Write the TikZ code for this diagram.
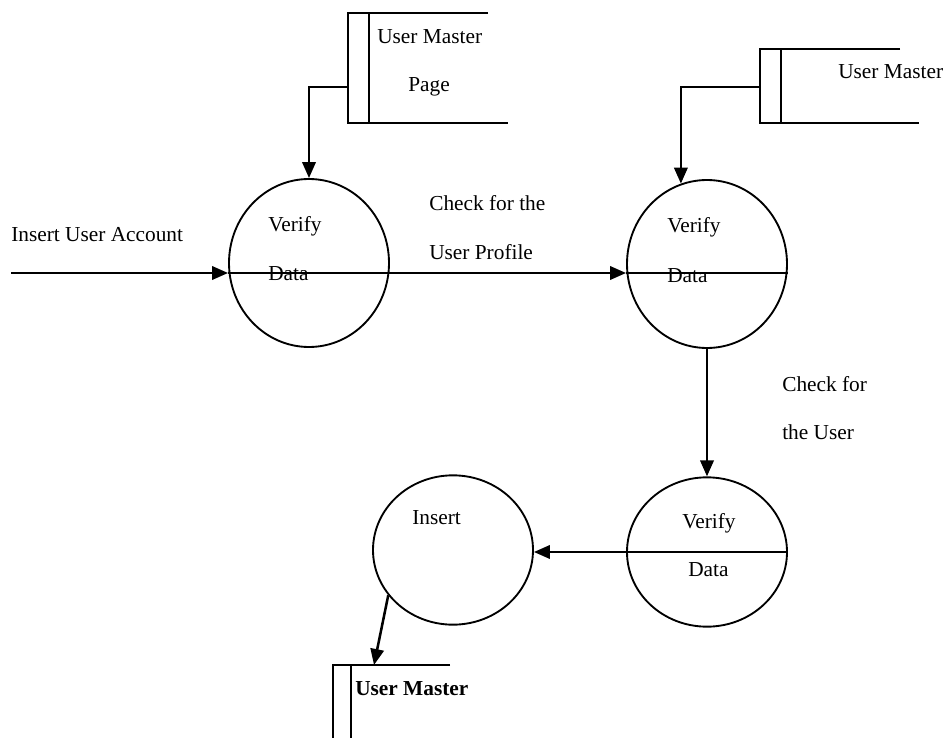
\documentclass[tikz,border=0pt]{standalone}
\usepackage{fontspec}
\setmainfont{Liberation Serif}
\usetikzlibrary{shapes,arrows.meta}
\usetikzlibrary{positioning}

\begin{document}
\begin{tikzpicture}[x=0.75pt,y=-0.75pt, proc_node/.style={ellipse,draw,line width=1.4pt,minimum width=120pt,minimum height=126pt,inner sep=0pt}, low_node/.style={proc_node,minimum height=112pt}, txt/.style={anchor=base west,inner sep=0pt,font=\fontsize{16}{19}\selectfont}, flow/.style={line width=1.9pt,-{Triangle[length=12pt,width=10pt]}}, store/.style={line width=1.9pt}]
				\useasboundingbox (0,0) rectangle (946,738);
				\node[proc_node](1) at (309,263){};
				\node[proc_node](2) at (707,264){};
				\node[low_node](3) at (707,552){};
				\node[low_node](4) at (453,550){};
				\coordinate (in) at (11,273);
				\coordinate (s1) at (348,87);
				\coordinate (s2) at (760,87);
				\coordinate (s3) at (374,665);
				% data stores
				\draw[store] (488,13) -- (348,13) -- (348,123) -- (508,123);
				\draw[store] (369,13) -- (369,123);
				\draw[store] (900,49) -- (760,49) -- (760,123) -- (919,123);
				\draw[store] (781,49) -- (781,123);
				\draw[store] (450,665) -- (333,665) -- (333,738);
				\draw[store] (351,665) -- (351,738);
				% flows
				\draw[flow] (in) -- (1.west |- in);
				\draw[store] (1.west |- in) -- (1.east |- in);
				\draw[flow] (1.east |- in) -- (2.west |- in);
				\draw[store] (2.west |- in) -- (2.east |- in);
				\draw[store] (3.west) -- (3.east);
				\draw[flow] (s1) -| (1.north);
				\draw[flow] (s2) -| (2.108);
				\path
				(2.south) edge[flow] (3.north)
				(3.west) edge[flow] (4.east |- 3.west)
				(4.215) edge[flow] (s3);
				% labels
				\node[txt](t_in) at (11,242){Insert User Account};
				\node[txt](v1) at (268,232){Verify};
				\node[txt](d1) at (268,280){Data};
				\node[txt](v2) at (667,233){Verify};
				\node[txt](d2) at (667,282){Data};
				\node[txt](v3) at (682,528){Verify};
				\node[txt](d3) at (688,576){Data};
				\node[txt](ins) at (412,524){Insert};
				\node[txt](m1) at (377,44){User Master};
				\node[txt](pg) at (408,92){Page};
				\node[txt](m2) at (838,79){User Master};
				\node[txt,font=\fontsize{16}{19}\selectfont\bfseries](m3) at (355,695){User Master};
				\node[txt](chk1) at (429,210){Check for the};
				\node[txt](chk1b) at (429,259){User Profile};
				\node[txt](chk2) at (782,391){Check for};
				\node[txt](chk2b) at (782,439){the User};
			\end{tikzpicture}
\end{document}
